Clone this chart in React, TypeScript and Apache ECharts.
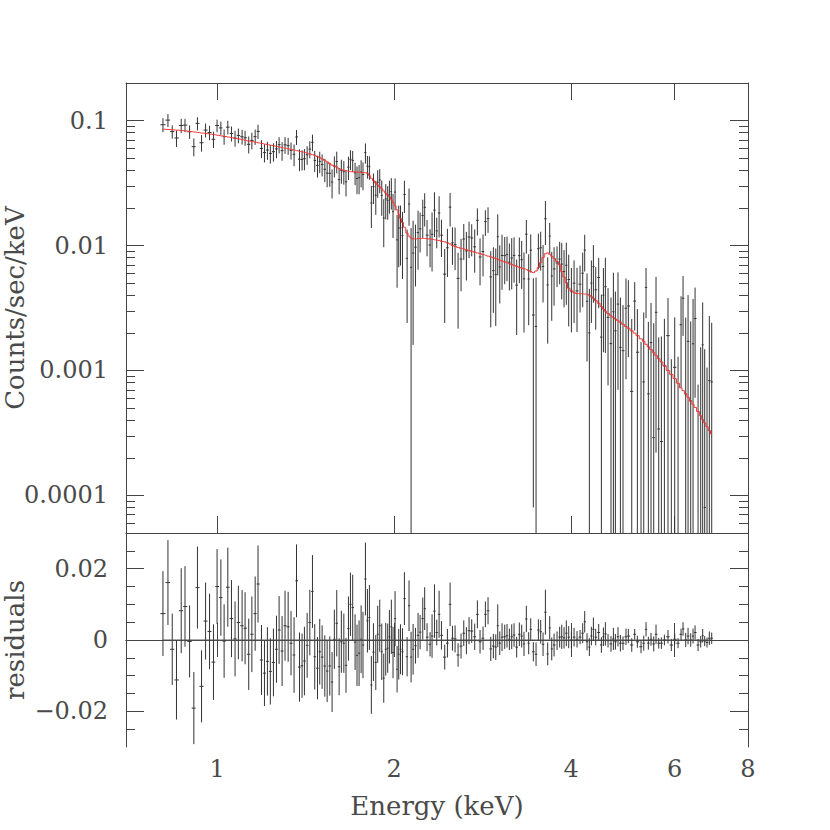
import React, { useEffect, useRef } from 'react';
import * as echarts from 'echarts';

// Bin centre energies (keV)
const energies = [
  0.809, 0.825, 0.839, 0.853, 0.869, 0.882, 0.898, 0.913, 0.926, 0.941,
  0.956, 0.971, 0.986, 1.000, 1.015, 1.028, 1.043, 1.058, 1.073, 1.087,
  1.103, 1.116, 1.132, 1.146, 1.161, 1.174, 1.190, 1.204, 1.218, 1.232,
  1.247, 1.262, 1.275, 1.290, 1.305, 1.321, 1.336, 1.352, 1.365, 1.381,
  1.395, 1.408, 1.423, 1.438, 1.453, 1.466, 1.482, 1.495, 1.509, 1.525,
  1.539, 1.555, 1.569, 1.583, 1.598, 1.613, 1.627, 1.643, 1.657, 1.673,
  1.686, 1.701, 1.717, 1.730, 1.744, 1.758, 1.771, 1.788, 1.802, 1.816,
  1.830, 1.845, 1.862, 1.876, 1.891, 1.906, 1.921, 1.936, 1.951, 1.964,
  1.979, 1.992, 2.008, 2.024, 2.037, 2.051, 2.067, 2.083, 2.105, 2.121,
  2.138, 2.155, 2.175, 2.197, 2.215, 2.238, 2.255, 2.276, 2.303, 2.321,
  2.343, 2.364, 2.386, 2.408, 2.439, 2.465, 2.491, 2.514, 2.540, 2.570,
  2.600, 2.628, 2.655, 2.683, 2.711, 2.743, 2.772, 2.801, 2.834, 2.860,
  2.890, 2.921, 2.951, 2.979, 3.002, 3.026, 3.053, 3.085, 3.113, 3.142,
  3.171, 3.200, 3.233, 3.267, 3.297, 3.327, 3.358, 3.389, 3.416, 3.451,
  3.488, 3.520, 3.552, 3.585, 3.618, 3.651, 3.680, 3.709, 3.743, 3.787,
  3.826, 3.857, 3.892, 3.927, 3.964, 4.006, 4.048, 4.095, 4.144, 4.187,
  4.220, 4.259, 4.298, 4.332, 4.366, 4.406, 4.458, 4.505, 4.541, 4.576,
  4.624, 4.678, 4.722, 4.759, 4.808, 4.853, 4.903, 4.961, 5.007, 5.074,
  5.133, 5.187, 5.262, 5.318, 5.366, 5.415, 5.472, 5.530, 5.580, 5.639,
  5.698, 5.766, 5.848, 5.925, 6.004, 6.083, 6.155, 6.203, 6.268, 6.326,
  6.392, 6.451, 6.502, 6.579, 6.647, 6.699, 6.752, 6.814, 6.876, 6.940,
];

// Folded model (counts/sec/keV)
const modelValues = [
  0.0853, 0.0848, 0.0843, 0.0838, 0.0832, 0.0826, 0.0818, 0.0810, 0.0803, 0.0795,
  0.0787, 0.0779, 0.0771, 0.0763, 0.0755, 0.0747, 0.0738, 0.0729, 0.0720, 0.0712,
  0.0703, 0.0695, 0.0686, 0.0678, 0.0670, 0.0663, 0.0655, 0.0648, 0.0641, 0.0634,
  0.0627, 0.0620, 0.0613, 0.0606, 0.0600, 0.0593, 0.0587, 0.0580, 0.0574, 0.0567,
  0.0561, 0.0555, 0.0548, 0.0542, 0.0534, 0.0527, 0.0516, 0.0505, 0.0494, 0.0481,
  0.0467, 0.0451, 0.0440, 0.0432, 0.0424, 0.0412, 0.0404, 0.0399, 0.0395, 0.0392,
  0.0390, 0.0389, 0.0388, 0.0387, 0.0386, 0.0385, 0.0384, 0.0383, 0.0378, 0.0364,
  0.0345, 0.0330, 0.0316, 0.0305, 0.0295, 0.0285, 0.0273, 0.0262, 0.0253, 0.0246,
  0.0233, 0.0222, 0.0208, 0.0193, 0.0178, 0.0165, 0.0153, 0.0140, 0.0126, 0.0119,
  0.0115, 0.0113, 0.0113, 0.0114, 0.0114, 0.0114, 0.0114, 0.0113, 0.0113, 0.0112,
  0.0111, 0.0110, 0.0110, 0.0108, 0.0107, 0.0105, 0.0103, 0.0100, 0.00985, 0.00966,
  0.00950, 0.00938, 0.00925, 0.00912, 0.00900, 0.00886, 0.00873, 0.00860, 0.00846, 0.00836,
  0.00823, 0.00811, 0.00799, 0.00787, 0.00776, 0.00764, 0.00752, 0.00740, 0.00729, 0.00717,
  0.00705, 0.00694, 0.00682, 0.00670, 0.00660, 0.00651, 0.00643, 0.00630, 0.00618, 0.00608,
  0.00625, 0.00665, 0.00730, 0.00800, 0.00860, 0.00874, 0.00850, 0.00820, 0.00790, 0.00745,
  0.00700, 0.00620, 0.00560, 0.00505, 0.00455, 0.00432, 0.00420, 0.00413, 0.00411, 0.00410,
  0.00409, 0.00408, 0.00400, 0.00390, 0.00378, 0.00362, 0.00345, 0.00325, 0.00310, 0.00298,
  0.00286, 0.00274, 0.00265, 0.00258, 0.00250, 0.00243, 0.00234, 0.00225, 0.00218, 0.00208,
  0.00199, 0.00190, 0.00179, 0.00171, 0.00162, 0.00155, 0.00147, 0.00139, 0.00132, 0.00124,
  0.00117, 0.00109, 0.00100, 0.00093, 0.00086, 0.00079, 0.000725, 0.00069, 0.00065, 0.00061,
  0.00057, 0.000535, 0.000505, 0.00047, 0.000435, 0.000405, 0.00038, 0.000355, 0.00033, 0.00031,
];

// Residuals (data - model)
const residualValues = [
  0.0074, 0.0161, -0.0026, -0.0112, 0.0082, 0.0094, -0.0004, -0.0191, 0.0147, -0.0130,
  0.0053, 0.0024, -0.0062, 0.0150, 0.0119, -0.0003, 0.0148, 0.0060, 0.0003, 0.0049,
  0.0040, 0.0033, -0.0040, 0.0016, 0.0074, 0.0157, -0.0056, -0.0093, -0.0060, -0.0088,
  -0.0063, -0.0026, 0.0028, -0.0031, 0.0040, 0.0037, -0.0009, -0.0042, 0.0166, -0.0076,
  -0.0072, -0.0059, -0.0015, 0.0049, 0.0136, -0.0047, -0.0079, -0.0033, -0.0048, -0.0073,
  -0.0087, -0.0073, -0.0118, 0.0002, 0.0047, -0.0075, -0.0005, -0.0009, -0.0071, 0.0032,
  0.0100, 0.0091, -0.0006, -0.0043, -0.0037, 0.0002, -0.0014, 0.0171, 0.0054, 0.0063,
  -0.0126, -0.0034, -0.0063, 0.0016, 0.0040, -0.0033, -0.0107, -0.0026, -0.0023, 0.0009,
  0.0037, -0.0035, 0.0060, -0.0082, -0.0040, -0.0026, -0.0033, 0.0116, -0.0047, 0.0096,
  -0.0048, -0.0026, -0.0016, 0.0013, 0.0022, 0.0060, 0.0088, 0.0008, -0.0012, 0.0011,
  0.0081, 0.0021, 0.0072, 0.0013, -0.0048, -0.0009, 0.0100, 0.0005, 0.0003, -0.0042,
  -0.0017, 0.0019, -0.0002, 0.0026, 0.0025, 0.0009, 0.0072, -0.0005, 0.0005, 0.0072,
  0.0082, -0.0025, -0.0017, -0.0020, 0.0040, -0.0009, 0.0008, 0.0009, 0.0012, 0.0002,
  0.0009, 0.0014, -0.0020, 0.0016, 0.0011, -0.0011, 0.0059, -0.0009, 0.0030, -0.0033,
  -0.0040, 0.0028, 0.0023, -0.0012, 0.0078, -0.0039, 0.0034, -0.0025, -0.0014, -0.0002,
  0.0008, 0.0009, 0.0006, 0.0019, 0.0008, 0.0000, 0.0008, 0.0002, 0.0008, 0.0019,
  0.0051, -0.0005, -0.0020, 0.0011, 0.0030, 0.0008, 0.0021, -0.0014, 0.0009, 0.0017,
  -0.0002, -0.0011, 0.0003, -0.0005, 0.0009, -0.0009, -0.0009, 0.0009, 0.0011, -0.0014,
  0.0016, -0.0005, -0.0019, -0.0009, 0.0030, -0.0009, 0.0002, -0.0011, 0.0016, -0.0009,
  -0.0009, 0.0000, 0.0009, -0.0014, 0.0002, -0.0009, 0.0016, 0.0031, 0.0000, 0.0011,
  0.0000, 0.0011, 0.0021, -0.0014, -0.0005, 0.0012, -0.0003, -0.0007, 0.0005, 0.0005,
];

// 1-sigma errors (counts/sec/keV)
const errorValues = [
  0.0119, 0.0119, 0.0100, 0.0111, 0.0119, 0.0113, 0.0101, 0.0101, 0.0115, 0.0101,
  0.0108, 0.0106, 0.0106, 0.0105, 0.0107, 0.0103, 0.0111, 0.0108, 0.0105, 0.0103,
  0.0100, 0.0101, 0.0100, 0.0106, 0.0104, 0.0108, 0.0098, 0.0092, 0.0096, 0.0093,
  0.0095, 0.0094, 0.0095, 0.0098, 0.0098, 0.0098, 0.0090, 0.0106, 0.0102, 0.0097,
  0.0090, 0.0096, 0.0091, 0.0092, 0.0102, 0.0092, 0.0087, 0.0092, 0.0089, 0.0086,
  0.0087, 0.0083, 0.0084, 0.0083, 0.0093, 0.0080, 0.0087, 0.0083, 0.0077, 0.0090,
  0.0089, 0.0092, 0.0078, 0.0086, 0.0092, 0.0095, 0.0093, 0.0102, 0.0089, 0.0091,
  0.0081, 0.0081, 0.0077, 0.0080, 0.0073, 0.0079, 0.0069, 0.0074, 0.0069, 0.0075,
  0.0076, 0.0072, 0.0077, 0.0065, 0.0071, 0.0070, 0.0066, 0.0074, 0.0055, 0.0071,
  0.0071, 0.0071, 0.0050, 0.0063, 0.0048, 0.0059, 0.0060, 0.0039, 0.0034, 0.0061,
  0.0075, 0.0036, 0.0066, 0.0040, 0.0035, 0.0040, 0.0061, 0.0035, 0.0038, 0.0033,
  0.0035, 0.0036, 0.0038, 0.0038, 0.0033, 0.0037, 0.0039, 0.0033, 0.0033, 0.0036,
  0.0038, 0.0034, 0.0034, 0.0036, 0.0060, 0.0033, 0.0039, 0.0034, 0.0033, 0.0030,
  0.0035, 0.0033, 0.0029, 0.0033, 0.0032, 0.0034, 0.0037, 0.0031, 0.0031, 0.0027,
  0.0033, 0.0030, 0.0033, 0.0033, 0.0063, 0.0032, 0.0033, 0.0032, 0.0032, 0.0026,
  0.0029, 0.0034, 0.0030, 0.0036, 0.0031, 0.0023, 0.0026, 0.0023, 0.0020, 0.0028,
  0.0030, 0.0024, 0.0025, 0.0026, 0.0033, 0.0023, 0.0024, 0.0022, 0.0026, 0.0033,
  0.0019, 0.0022, 0.0031, 0.0022, 0.0027, 0.0023, 0.0019, 0.0023, 0.0020, 0.0019,
  0.0015, 0.0017, 0.0018, 0.0021, 0.0020, 0.0018, 0.0018, 0.0021, 0.0027, 0.0015,
  0.0016, 0.0015, 0.0019, 0.0017, 0.0016, 0.0014, 0.0016, 0.0019, 0.0020, 0.0023,
  0.0019, 0.0021, 0.0020, 0.0017, 0.0016, 0.0019, 0.0014, 0.0014, 0.0019, 0.0016,
];

const xTickValues = [1, 2, 4, 6, 8];
const xTickLabels = ['1', '2', '4', '6', '8'];
const yMajorValues = [0.0001, 0.001, 0.01, 0.1];
const yMajorLabels = ['0.0001', '0.001', '0.01', '0.1'];
const yMinorValues = [
  6e-5, 7e-5, 8e-5, 9e-5,
  2e-4, 3e-4, 4e-4, 5e-4, 6e-4, 7e-4, 8e-4, 9e-4,
  2e-3, 3e-3, 4e-3, 5e-3, 6e-3, 7e-3, 8e-3, 9e-3,
  2e-2, 3e-2, 4e-2, 5e-2, 6e-2, 7e-2, 8e-2, 9e-2,
];
const rMajorValues = [-0.02, 0, 0.02];
const rMajorLabels = ['\u22120.02', '0', '0.02'];
const rMinorValues = [-0.025, -0.015, -0.01, -0.005, 0.005, 0.01, 0.015, 0.025];

const X_MIN = 0.7;
const X_MAX = 8;
const Y_MIN = 5e-5;
const Y_MAX = 0.2;
const R_MIN = -0.03;
const R_MAX = 0.03;

const FONT = "'DejaVu Serif', 'Liberation Serif', serif";
const INK = '#444';
const TEXT = '#4a4a4a';
const FS = 24;
const NAME_FS = 26;

function binEdges() {
  const n = energies.length;
  const lo: number[] = [];
  const hi: number[] = [];
  for (let i = 0; i < n; i++) {
    const prev = i > 0 ? energies[i - 1] : energies[i] * energies[i] / energies[i + 1];
    const next = i < n - 1 ? energies[i + 1] : energies[i] * energies[i] / energies[i - 1];
    lo.push(Math.sqrt(prev * energies[i]));
    hi.push(Math.sqrt(energies[i] * next));
  }
  return { lo, hi };
}

function labelFor(values: number[], labels: string[], log: boolean) {
  return (v: number) => {
    for (let i = 0; i < values.length; i++) {
      const d = log ? Math.abs(Math.log10(v) - Math.log10(values[i])) : Math.abs(v - values[i]);
      if (d < 1e-6 || (log && d < 0.01)) return labels[i];
    }
    return '';
  };
}

function makeErrRender(isLog: boolean) {
  return (params: any, api: any) => {
    const x = api.value(0);
    const y = api.value(1);
    const e = api.value(2);
    const lo = api.value(3);
    const hi = api.value(4);
    const floor = isLog ? 1e-7 : -1;
    const top = y + e;
    let bot = y - e;
    const children: any[] = [];
    const style = { stroke: '#333', lineWidth: 1 };
    if (!isLog || top > 0) {
      if (isLog && bot <= 0) bot = floor;
      const p1 = api.coord([x, top]);
      const p2 = api.coord([x, bot]);
      children.push({ type: 'line', shape: { x1: p1[0], y1: p1[1], x2: p2[0], y2: p2[1] }, style });
    }
    if (!isLog || y > 0) {
      const q1 = api.coord([lo, y]);
      const q2 = api.coord([hi, y]);
      children.push({ type: 'line', shape: { x1: q1[0], y1: q1[1], x2: q2[0], y2: q2[1] }, style });
    }
    return { type: 'group', children };
  };
}

export default function App() {
  const ref = useRef<HTMLDivElement>(null);

  useEffect(() => {
    if (!ref.current) return;
    const chart = echarts.init(ref.current, undefined, { renderer: 'svg' });
    const { lo, hi } = binEdges();
    const countsData = energies.map((E, i) => [E, modelValues[i] + residualValues[i], errorValues[i], lo[i], hi[i]]);
    const residData = energies.map((E, i) => [E, residualValues[i], errorValues[i], lo[i], hi[i]]);
    const modelData = energies.map((E, i) => [E, modelValues[i]]);
    const zeroData = energies.map((E) => [E, 0]);

    const axisLine = { show: true, lineStyle: { color: INK, width: 1 } };
    const noLine = { show: false };
    const labelStyle = { fontFamily: FONT, fontSize: FS, color: TEXT };

    const xAx = (gridIndex: number, position: string, withLabels: boolean, extra: any = {}) => ({
      type: 'log',
      logBase: 10,
      gridIndex,
      position,
      min: X_MIN,
      max: X_MAX,
      axisLine,
      splitLine: { show: false },
      minorTick: { show: false },
      axisTick: { show: true, inside: true, length: 17, customValues: xTickValues, lineStyle: { color: INK, width: 1 } },
      axisLabel: withLabels
        ? { show: true, customValues: xTickValues, formatter: labelFor(xTickValues, xTickLabels, true), margin: 10, ...labelStyle }
        : { show: false },
      ...extra,
    });

    const yLog = (position: string, major: boolean, withLabels: boolean, extra: any = {}) => ({
      type: 'log',
      logBase: 10,
      gridIndex: 0,
      position,
      min: Y_MIN,
      max: Y_MAX,
      axisLine: major ? axisLine : noLine,
      splitLine: { show: false },
      minorTick: { show: false },
      axisTick: {
        show: true,
        inside: true,
        length: major ? 18 : 9,
        customValues: major ? yMajorValues : yMinorValues,
        lineStyle: { color: INK, width: 1 },
      },
      axisLabel: withLabels
        ? { show: true, customValues: yMajorValues, formatter: labelFor(yMajorValues, yMajorLabels, true), margin: 18, ...labelStyle }
        : { show: false },
      ...extra,
    });

    const yRes = (position: string, major: boolean, withLabels: boolean, extra: any = {}) => ({
      type: 'value',
      gridIndex: 1,
      position,
      min: R_MIN,
      max: R_MAX,
      axisLine: major ? axisLine : noLine,
      splitLine: { show: false },
      minorTick: { show: false },
      axisTick: {
        show: true,
        inside: true,
        length: major ? 18 : 9,
        customValues: major ? rMajorValues : rMinorValues,
        lineStyle: { color: INK, width: 1 },
      },
      axisLabel: withLabels
        ? { show: true, customValues: rMajorValues, formatter: labelFor(rMajorValues, rMajorLabels, false), margin: 18, ...labelStyle }
        : { show: false },
      ...extra,
    });

    const nameStyle = { fontFamily: FONT, fontSize: NAME_FS, color: TEXT };

    chart.setOption({
      animation: false,
      backgroundColor: '#ffffff',
      textStyle: { fontFamily: FONT },
      grid: [
        { left: 126, top: 83, width: 622, height: 450, containLabel: false, outerBoundsMode: 'none' },
        { left: 126, top: 533, width: 622, height: 214, containLabel: false, outerBoundsMode: 'none' },
      ],
      xAxis: [
        xAx(0, 'bottom', false),
        xAx(0, 'top', false),
        xAx(1, 'bottom', true, { name: 'Energy (keV)', nameLocation: 'middle', nameGap: 46, nameTextStyle: nameStyle }),
        xAx(1, 'top', false),
      ],
      yAxis: [
        yLog('left', true, true, {
          name: 'Counts/sec/keV', nameLocation: 'middle', nameGap: 98, nameMoveOverlap: false, nameTextStyle: nameStyle,
        }),
        yLog('left', false, false),
        yLog('right', true, false),
        yLog('right', false, false),
        yRes('left', true, true, {
          name: 'residuals', nameLocation: 'middle', nameGap: 98, nameMoveOverlap: false, nameTextStyle: nameStyle,
        }),
        yRes('left', false, false),
        yRes('right', true, false),
        yRes('right', false, false),
      ],
      series: [
        {
          type: 'custom',
          name: 'data',
          xAxisIndex: 0,
          yAxisIndex: 0,
          clip: true,
          renderItem: makeErrRender(true),
          encode: { x: 0, y: 1 },
          data: countsData,
          silent: true,
        },
        {
          type: 'line',
          name: 'model',
          xAxisIndex: 0,
          yAxisIndex: 0,
          step: 'middle',
          symbol: 'none',
          lineStyle: { color: '#ff3333', width: 1 },
          data: modelData,
          silent: true,
        },
        {
          type: 'line',
          name: 'zero',
          xAxisIndex: 2,
          yAxisIndex: 4,
          symbol: 'none',
          lineStyle: { color: '#555', width: 1 },
          data: zeroData,
          silent: true,
        },
        {
          type: 'custom',
          name: 'residuals',
          xAxisIndex: 2,
          yAxisIndex: 4,
          clip: true,
          renderItem: makeErrRender(false),
          encode: { x: 0, y: 1 },
          data: residData,
          silent: true,
        },
      ],
    });

    return () => {
      chart.dispose();
    };
  }, []);

  return (
    <div
      ref={ref}
      style={{ position: 'fixed', left: 0, top: 0, width: 830, height: 830, background: '#fff' }}
    />
  );
}
